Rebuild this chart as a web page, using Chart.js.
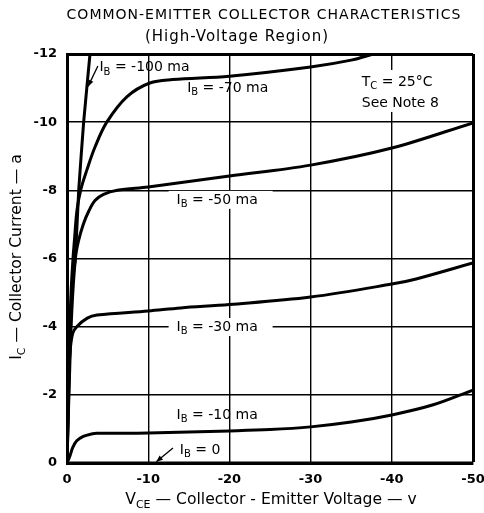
<!DOCTYPE html>
<html>
<head>
<meta charset="utf-8">
<script src="https://cdn.jsdelivr.net/npm/chart.js@4"></script>
<style>
  html, body { margin: 0; padding: 0; background: #fff; }
  #wrap { width: 484px; height: 513px; }
</style>
</head>
<body>
<div id="wrap"><canvas id="chart" width="484" height="513"></canvas></div>
<script>
// tick labels
const xTickValues = [0, -10, -20, -30, -40, -50];
const xTickLabels = ['0', '-10', '-20', '-30', '-40', '-50'];
const yTickValues = [0, -2, -4, -6, -8, -10, -12];
const yTickLabels = ['0', '-2', '-4', '-6', '-8', '-10', '-12'];

// VCE (v) and IC (a), one pair of arrays per base current
const ib100V = [0, -0.3, -0.6, -1.03, -1.44, -2.05, -2.83];
const ib100I = [0, -3, -5.2, -6, -8, -10, -12];

const ib70V = [0, -0.3, -0.5, -0.74, -0.95, -1.23, -1.72, -2.45, -3.45, -4.9, -7.4, -10.2, -13, -20, -30, -35, -37.7];
const ib70I = [0, -3.5, -5.0, -6.0, -6.64, -7.42, -8.04, -8.6, -9.27, -10.0, -10.75, -11.15, -11.25, -11.35, -11.62, -11.82, -12];

const ib50V = [0, -0.3, -0.6, -1.03, -1.4, -2.0, -2.7, -3.45, -4.5, -6.2, -10, -20, -30, -40, -50];
const ib50I = [0, -2.5, -4.5, -6.0, -6.5, -7.0, -7.4, -7.7, -7.88, -8.0, -8.1, -8.42, -8.74, -9.24, -9.98];

const ib30V = [0, -0.15, -0.35, -0.7, -1.2, -2.5, -3.7, -10, -14, -20, -30, -40, -43, -50];
const ib30I = [0, -2, -3.2, -3.8, -4.0, -4.25, -4.34, -4.46, -4.55, -4.65, -4.87, -5.25, -5.4, -5.87];

const ib10V = [0, -0.35, -0.7, -1.2, -2, -3, -3.7, -10, -20, -25, -30, -35, -40, -45, -50];
const ib10I = [0, -0.2, -0.45, -0.65, -0.78, -0.85, -0.87, -0.88, -0.94, -0.98, -1.06, -1.2, -1.41, -1.7, -2.14];

const ib0V = [0, -50];
const ib0I = [0, 0];

const toPoints = (vs, is) => vs.map((v, i) => ({ x: v, y: is[i] }));

const curveStyle = {
  showLine: true,
  borderColor: '#000',
  borderWidth: 3,
  pointRadius: 0,
  fill: false,
  tension: 0.35
};

const FONT = '"DejaVu Sans", sans-serif';

// text with subscripts: parts = [[text, isSub], ...]
function drawRich(ctx, parts, x, y, size, align) {
  const subSize = Math.round(size * 0.68);
  let total = 0;
  parts.forEach(([t, sub]) => {
    ctx.font = (sub ? subSize : size) + 'px ' + FONT;
    total += ctx.measureText(t).width;
  });
  let cx = x;
  if (align === 'center') cx = x - total / 2;
  ctx.textBaseline = 'middle';
  ctx.textAlign = 'left';
  parts.forEach(([t, sub]) => {
    ctx.font = (sub ? subSize : size) + 'px ' + FONT;
    ctx.fillText(t, cx, sub ? y + size * 0.32 : y);
    cx += ctx.measureText(t).width;
  });
  return total;
}

function arrow(ctx, x1, y1, x2, y2) {
  ctx.beginPath();
  ctx.moveTo(x1, y1);
  ctx.lineTo(x2, y2);
  ctx.lineWidth = 1.3;
  ctx.strokeStyle = '#000';
  ctx.stroke();
  const a = Math.atan2(y2 - y1, x2 - x1);
  ctx.beginPath();
  ctx.moveTo(x2, y2);
  ctx.lineTo(x2 - 7 * Math.cos(a - 0.4), y2 - 7 * Math.sin(a - 0.4));
  ctx.lineTo(x2 - 7 * Math.cos(a + 0.4), y2 - 7 * Math.sin(a + 0.4));
  ctx.closePath();
  ctx.fillStyle = '#000';
  ctx.fill();
}

// curve labels in data units: [vce, ic, parts, whiteBox]
const curveLabels = [
  [-4.0, -11.6, [['I', false], ['B', true], [' = -100 ma', false]], false],
  [-14.8, -11.0, [['I', false], ['B', true], [' = -70 ma', false]], false],
  [-13.5, -7.72, [['I', false], ['B', true], [' = -50 ma', false]], true],
  [-13.5, -3.99, [['I', false], ['B', true], [' = -30 ma', false]], true],
  [-13.5, -1.41, [['I', false], ['B', true], [' = -10 ma', false]], false],
  [-13.9, -0.38, [['I', false], ['B', true], [' = 0', false]], false]
];

const annotate = {
  id: 'annotate',
  beforeDatasetsDraw(chart) {
    const ctx = chart.ctx;
    const xs = chart.scales.x, ys = chart.scales.y;
    ctx.save();
    ctx.fillStyle = '#000';
    curveLabels.forEach(([v, i, parts, box]) => {
      const px = xs.getPixelForValue(v), py = ys.getPixelForValue(i);
      if (box) {
        ctx.fillStyle = '#fff';
        ctx.fillRect(px - 8, py - 9, 104, 18);
        ctx.fillStyle = '#000';
      }
      drawRich(ctx, parts, px, py, 14, 'left');
    });
    // temperature note
    const tx = xs.getPixelForValue(-36.3);
    const ty1 = ys.getPixelForValue(-11.18), ty2 = ys.getPixelForValue(-10.56);
    ctx.fillStyle = '#fff';
    ctx.fillRect(tx - 4, ty1 - 12, 90, 42);
    ctx.fillStyle = '#000';
    drawRich(ctx, [['T', false], ['C', true], [' = 25°C', false]], tx, ty1, 14, 'left');
    drawRich(ctx, [['See Note 8', false]], tx, ty2, 14, 'left');
    // arrows
    arrow(ctx, xs.getPixelForValue(-3.8), ys.getPixelForValue(-11.65),
               xs.getPixelForValue(-2.6), ys.getPixelForValue(-11.05));
    arrow(ctx, xs.getPixelForValue(-13.05), ys.getPixelForValue(-0.44),
               xs.getPixelForValue(-11.0), ys.getPixelForValue(-0.04));
    ctx.restore();
  },
  afterDraw(chart) {
    const ctx = chart.ctx;
    ctx.save();
    ctx.fillStyle = '#000';
    ctx.textAlign = 'center';
    ctx.textBaseline = 'middle';
    ctx.letterSpacing = '1px';
    ctx.font = '14px ' + FONT;
    ctx.fillText('COMMON-EMITTER COLLECTOR CHARACTERISTICS', 264, 15);
    ctx.font = '15px ' + FONT;
    ctx.fillText('(High-Voltage Region)', 237, 37);
    ctx.letterSpacing = '0px';
    drawRich(ctx, [['V', false], ['CE', true], [' \u2014 Collector - Emitter Voltage \u2014 v', false]], 271, 500, 15.6, 'center');
    ctx.translate(17, 257);
    ctx.rotate(-Math.PI / 2);
    drawRich(ctx, [['I', false], ['C', true], [' \u2014 Collector Current \u2014 a', false]], 0, 0, 15.6, 'center');
    ctx.restore();
  }
};

new Chart(document.getElementById('chart').getContext('2d'), {
  type: 'scatter',
  data: {
    datasets: [
      { label: 'IB = -100 ma', data: toPoints(ib100V, ib100I), ...curveStyle, tension: 0.1 },
      { label: 'IB = -70 ma', data: toPoints(ib70V, ib70I), ...curveStyle },
      { label: 'IB = -50 ma', data: toPoints(ib50V, ib50I), ...curveStyle },
      { label: 'IB = -30 ma', data: toPoints(ib30V, ib30I), ...curveStyle },
      { label: 'IB = -10 ma', data: toPoints(ib10V, ib10I), ...curveStyle },
      { label: 'IB = 0', data: toPoints(ib0V, ib0I), ...curveStyle, tension: 0 }
    ]
  },
  options: {
    responsive: false,
    animation: false,
    layout: { padding: { top: 54, right: 11, bottom: 0, left: 0 } },
    plugins: { legend: { display: false }, tooltip: { enabled: false } },
    scales: {
      x: {
        type: 'linear',
        min: -50,
        max: 0,
        reverse: true,
        afterBuildTicks: s => { s.ticks = xTickValues.map(v => ({ value: v })); },
        afterFit: s => { s.height = 50; s.paddingLeft = 0; s.paddingRight = 0; },
        ticks: {
          color: '#000',
          font: { family: FONT, size: 13, weight: 'bold' },
          padding: 9,
          maxRotation: 0,
          callback: v => xTickLabels[xTickValues.indexOf(v)]
        },
        grid: {
          color: '#000',
          lineWidth: c => (c.tick && c.tick.value === -50 ? 3 : 1.4),
          drawTicks: false
        },
        border: { color: '#000', width: 3 }
      },
      y: {
        type: 'linear',
        min: -12,
        max: 0,
        reverse: true,
        afterBuildTicks: s => { s.ticks = yTickValues.map(v => ({ value: v })); },
        afterFit: s => { s.width = 67; s.paddingTop = 0; s.paddingBottom = 0; },
        ticks: {
          color: '#000',
          font: { family: FONT, size: 13, weight: 'bold' },
          padding: 10,
          callback: v => yTickLabels[yTickValues.indexOf(v)]
        },
        grid: {
          color: '#000',
          lineWidth: c => (c.tick && c.tick.value === -12 ? 3 : 1.4),
          drawTicks: false
        },
        border: { color: '#000', width: 3 }
      }
    }
  },
  plugins: [annotate]
});
</script>
</body>
</html>
